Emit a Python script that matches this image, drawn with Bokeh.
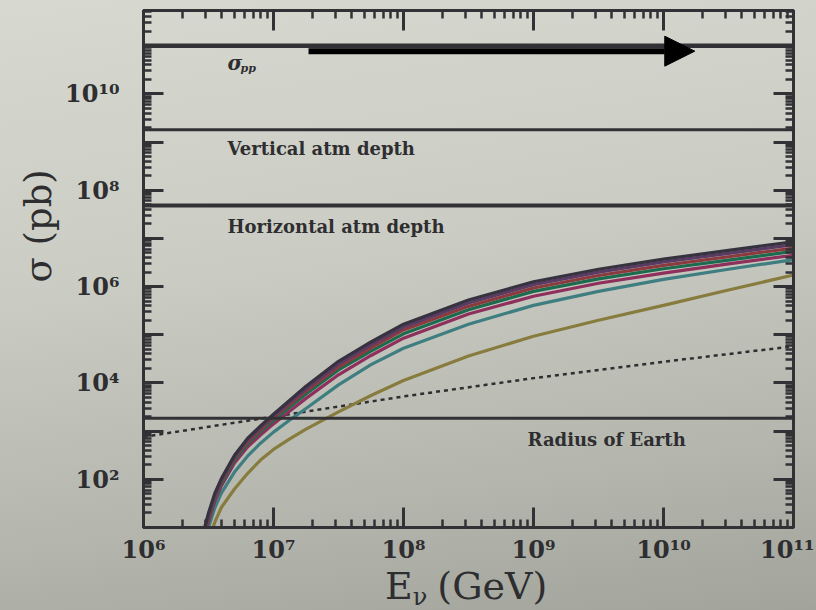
import numpy as np
from bokeh.plotting import figure
from bokeh.layouts import column
from bokeh.models import (Range1d, LogAxis, FixedTicker, Label, Arrow, NormalHead,
                          Span, Title, Div, GlobalInlineStyleSheet)
from bokeh.embed import file_html
from bokeh.resources import INLINE

# ---------------- data (log10 units) ----------------
log10_E = [6.46, 6.50, 6.55, 6.60, 6.70, 6.80, 6.90, 7.00, 7.125, 7.25, 7.50,
           7.75, 8.00, 8.50, 9.00, 9.50, 10.00, 10.50, 11.00]
log10_sigma_navy = [0.90, 1.30, 1.72, 2.02, 2.50, 2.85, 3.11, 3.35, 3.64, 3.93, 4.45,
                    4.85, 5.22, 5.72, 6.10, 6.36, 6.57, 6.75, 6.93]
log10_sigma_purple = [0.86, 1.27, 1.69, 1.99, 2.47, 2.82, 3.07, 3.31, 3.60, 3.88, 4.39,
                      4.79, 5.16, 5.66, 6.04, 6.30, 6.51, 6.69, 6.87]
log10_sigma_brown = [0.82, 1.23, 1.66, 1.96, 2.44, 2.78, 3.03, 3.27, 3.55, 3.83, 4.33,
                     4.73, 5.10, 5.59, 5.97, 6.23, 6.44, 6.62, 6.80]
log10_sigma_green = [0.78, 1.19, 1.62, 1.92, 2.40, 2.74, 2.99, 3.22, 3.50, 3.77, 4.27,
                     4.66, 5.02, 5.52, 5.90, 6.16, 6.37, 6.55, 6.73]
log10_sigma_magenta = [0.72, 1.12, 1.56, 1.87, 2.34, 2.67, 2.92, 3.15, 3.42, 3.68, 4.17,
                       4.57, 4.93, 5.43, 5.80, 6.07, 6.28, 6.47, 6.65]
log10_sigma_teal = [0.62, 1.00, 1.42, 1.72, 2.15, 2.48, 2.75, 2.98, 3.23, 3.47, 3.96,
                    4.38, 4.72, 5.22, 5.61, 5.90, 6.15, 6.36, 6.56]
log10_sigma_olive = [0.40, 0.72, 1.12, 1.42, 1.80, 2.12, 2.40, 2.62, 2.84, 3.04, 3.40,
                     3.74, 4.05, 4.56, 4.97, 5.30, 5.61, 5.93, 6.24]

# Standard-model cross section (dotted)
sm_log10_E = [6.0, 7.0, 8.0, 9.0, 10.0, 11.0]
sm_log10_sigma = [2.88, 3.30, 3.72, 4.10, 4.44, 4.76]

# Reference horizontal levels (pb)
ref_names = ["sigma_pp", "Vertical atm depth", "Horizontal atm depth", "Radius of Earth"]
ref_sigma = [1.0e11, 1.8e9, 4.8e7, 1.86e3]

# Arrow (E range, sigma level)
arrow_E = [1.86e7, 1.74e10]
arrow_sigma = 7.7e10

# ticks
x_major = [1e6, 1e7, 1e8, 1e9, 1e10, 1e11]
x_tick_labels = ["10\u2076", "10\u2077", "10\u2078", "10\u2079", "10\u00b9\u2070", "10\u00b9\u00b9"]
y_major = [10.0 ** k for k in range(1, 12)]
y_tick_labels = [" ", "10\u00b2", " ", "10\u2074", " ", "10\u2076", " ", "10\u2078", " ",
                 "10\u00b9\u2070", " "]

# ---------------- layout constants ----------------
FRAME = "#323236"
TXT = "#2e2e30"
BG = "linear-gradient(172deg, #d7d9d1 0%, #cbcdc5 40%, #b5b7af 75%, #a2a49c 100%)"
W = 814
MAIN_H = 567
BOTTOM_H = 41

p = figure(width=W, height=MAIN_H, x_axis_type="log", y_axis_type="log",
           x_range=Range1d(1e6, 1e11), y_range=Range1d(10.0, 10 ** 11.73),
           output_backend="svg", toolbar_location=None,
           min_border_left=143, min_border_right=21, min_border_top=10, min_border_bottom=40)
p.background_fill_alpha = 0
p.border_fill_alpha = 0
p.outline_line_color = FRAME
p.outline_line_width = 3
p.grid.visible = False

def minors(majors):
    out = []
    for m in majors[:-1]:
        out += [m * k for k in range(2, 10)]
    return out

x_ticker = FixedTicker(ticks=x_major, minor_ticks=minors(x_major))
y_ticker = FixedTicker(ticks=y_major, minor_ticks=minors(y_major + [1e12]))

def style_axis(ax, ticker, show_labels):
    ax.ticker = ticker
    ax.axis_line_color = FRAME
    ax.axis_line_width = 3
    ax.major_tick_in = 20
    ax.major_tick_out = 0
    ax.minor_tick_in = 8
    ax.minor_tick_out = 0
    ax.major_tick_line_color = FRAME
    ax.minor_tick_line_color = FRAME
    ax.major_tick_line_width = 3
    ax.minor_tick_line_width = 2.5
    if show_labels:
        ax.major_label_text_font = "DejaVu Serif"
        ax.major_label_text_font_style = "bold"
        ax.major_label_text_font_size = "24px"
        ax.major_label_text_color = TXT
    else:
        ax.major_label_text_font_size = "1px"
        ax.major_label_text_alpha = 0
        ax.major_label_standoff = 0

style_axis(p.xaxis[0], x_ticker, True)
p.xaxis[0].major_label_overrides = dict(zip(x_major, x_tick_labels))
p.xaxis[0].major_label_standoff = 7
style_axis(p.yaxis[0], y_ticker, True)
p.yaxis[0].major_label_overrides = dict(zip(y_major, y_tick_labels))
p.yaxis[0].major_label_standoff = 24

top = LogAxis()
style_axis(top, x_ticker, False)
p.add_layout(top, "above")
right = LogAxis()
style_axis(right, y_ticker, False)
p.add_layout(right, "right")

# y title as a left-side Title, placed in the upper half like the reference
p.add_layout(Title(text="\u03c3 (pb)", align="left", offset=245, standoff=6,
                   text_font="DejaVu Serif", text_font_style="normal",
                   text_font_size="37px", text_color=TXT), "left")

# reference horizontal lines
ref_widths = [4.5, 3, 4, 3]
for lvl, w in zip(ref_sigma, ref_widths):
    p.add_layout(Span(location=lvl, dimension="width", line_color=FRAME, line_width=w))

# SM dotted line
p.line(x=10.0 ** np.array(sm_log10_E), y=10.0 ** np.array(sm_log10_sigma),
       line_color=TXT, line_width=2.5, line_dash="4 4")

E = 10.0 ** np.array(log10_E)
curves = [
    (log10_sigma_olive, "#877c3e"),
    (log10_sigma_teal, "#3f7e80"),
    (log10_sigma_magenta, "#8e2f5c"),
    (log10_sigma_green, "#1c6b4e"),
    (log10_sigma_brown, "#8b3a3e"),
    (log10_sigma_purple, "#5a3b64"),
    (log10_sigma_navy, "#37323f"),
]
for ys, col in curves:
    p.line(x=E, y=10.0 ** np.array(ys), line_color=col, line_width=3.2)

# arrow
p.add_layout(Arrow(end=NormalHead(size=30, fill_color="black", line_color="black", line_width=1),
                   x_start=arrow_E[0], y_start=arrow_sigma, x_end=arrow_E[1], y_end=arrow_sigma,
                   line_color="black", line_width=6))

# annotations inside the frame
def ann(x, y, text, size="18px", style="bold", **kw):
    p.add_layout(Label(x=x, y=y, text=text, text_font="DejaVu Serif", text_font_style=style,
                       text_font_size=size, text_color=TXT, text_baseline="alphabetic", **kw))

ann(10 ** 6.646, 10 ** 10.64, "\u03c3", size="20px", style="bold italic")
ann(10 ** 6.646, 10 ** 10.64, "pp", size="11px", style="bold italic", x_offset=13, y_offset=-5)
ann(10 ** 6.646, 10 ** 8.87, "Vertical atm depth")
ann(10 ** 6.646, 10 ** 7.255, "Horizontal atm depth")
ann(10 ** 8.954, 10 ** 2.836, "Radius of Earth")

# x title with a subscript nu, as real HTML text
xtitle = Div(text='E<span style="font-size:24px; position:relative; top:6px;">\u03bd</span>'
                  '<span style="padding-left:10px;">(GeV)</span>',
             width=W, height=BOTTOM_H,
             styles={"font-family": "'DejaVu Serif'", "font-size": "38px", "color": TXT,
                     "line-height": "38px", "padding-left": "385px", "white-space": "nowrap",
                     "margin": "0"})

layout = column(p, xtitle, spacing=0)
layout.stylesheets = [GlobalInlineStyleSheet(css="html { background: %s; min-height: 100%%; }" % BG)]

open("out.html", "w").write(file_html(layout, INLINE))
